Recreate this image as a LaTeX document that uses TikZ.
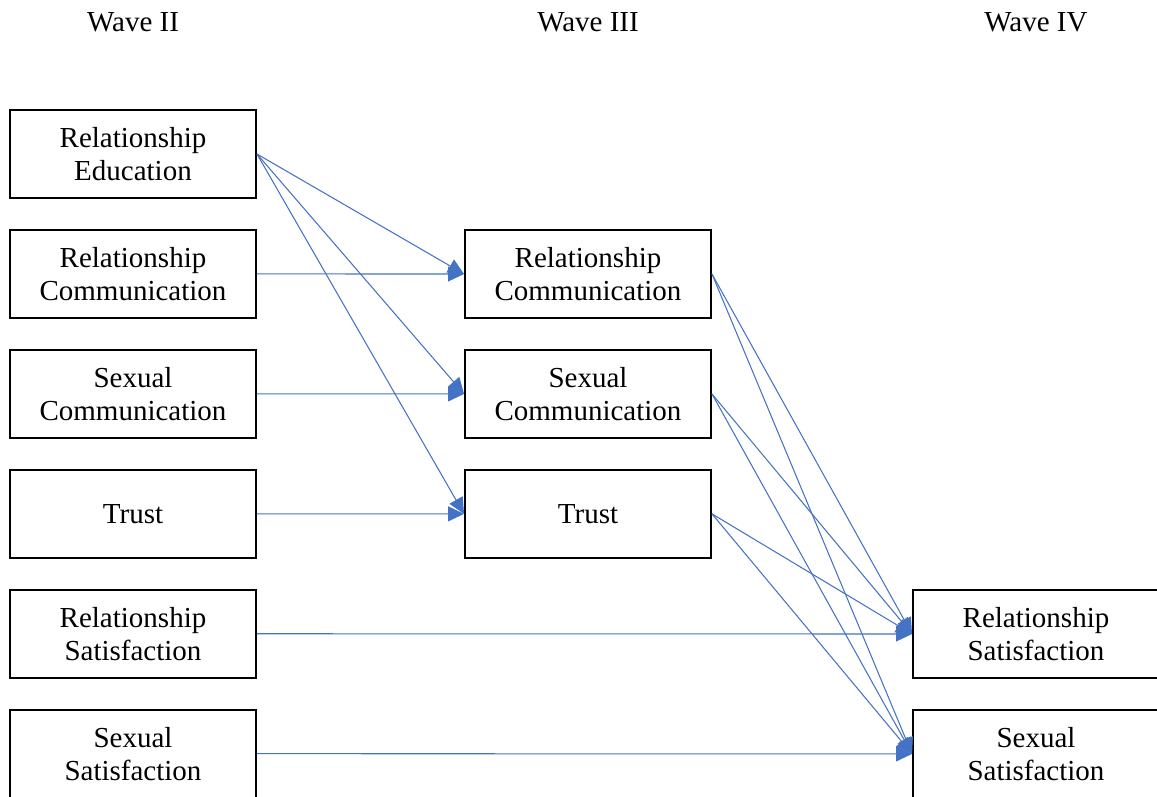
\documentclass[tikz,border=0pt]{standalone}
\usepackage{fontspec}
\setmainfont{Liberation Serif}
\usetikzlibrary{positioning,arrows.meta}
\definecolor{linkblue}{HTML}{4472C4}

\begin{document}
\begin{tikzpicture}[
    box/.style={rectangle, draw, line width=1.1pt, minimum width=4.92cm, minimum height=1.76cm,
      inner sep=0pt, align=center, font=\fontsize{16.5}{18.7}\selectfont},
    wave/.style={font=\fontsize{16.5}{18.7}\selectfont},
    link/.style={draw=linkblue, line width=0.6pt, -{Triangle[length=0.32cm,width=0.3cm]}},
    node distance=0.6cm
  ]
  \useasboundingbox (0,0) rectangle (23.14,-15.92);

  \node[wave] (wave2) at (2.66,-0.44) {Wave II};
  \node[wave] (wave3) at (11.76,-0.44) {Wave III};
  \node[wave] (wave4) at (20.72,-0.44) {Wave IV};

  % wave II
  \node[box] (edu2) at (2.66,-3.08) {Relationship\\Education};
  \node[box, below=of edu2] (rcom2) {Relationship\\Communication};
  \node[box, below=of rcom2] (scom2) {Sexual\\Communication};
  \node[box, below=of scom2] (trust2) {Trust};
  \node[box, below=of trust2] (rsat2) {Relationship\\Satisfaction};
  \node[box, below=of rsat2] (ssat2) {Sexual\\Satisfaction};

  % wave III
  \node[box] (rcom3) at (11.76,-5.48) {Relationship\\Communication};
  \node[box, below=of rcom3] (scom3) {Sexual\\Communication};
  \node[box, below=of scom3] (trust3) {Trust};

  % wave IV
  \node[box] (rsat4) at (20.72,-12.68) {Relationship\\Satisfaction};
  \node[box, below=of rsat4] (ssat4) {Sexual\\Satisfaction};

  \foreach \t in {rcom3, scom3, trust3}
    \draw[link] (edu2.east) -- (\t.west);
  \draw[link] (rcom2.east) -- (rcom3.west);
  \draw[link] (scom2.east) -- (scom3.west);
  \draw[link] (trust2.east) -- (trust3.west);

  \foreach \s in {rcom3, scom3, trust3}{
    \draw[link] (\s.east) -- (rsat4.west);
    \draw[link] (\s.east) -- (ssat4.west);
  }
  \draw[link] (rsat2.east) -- (rsat4.west);
  \draw[link] (ssat2.east) -- (ssat4.west);
\end{tikzpicture}
\end{document}
